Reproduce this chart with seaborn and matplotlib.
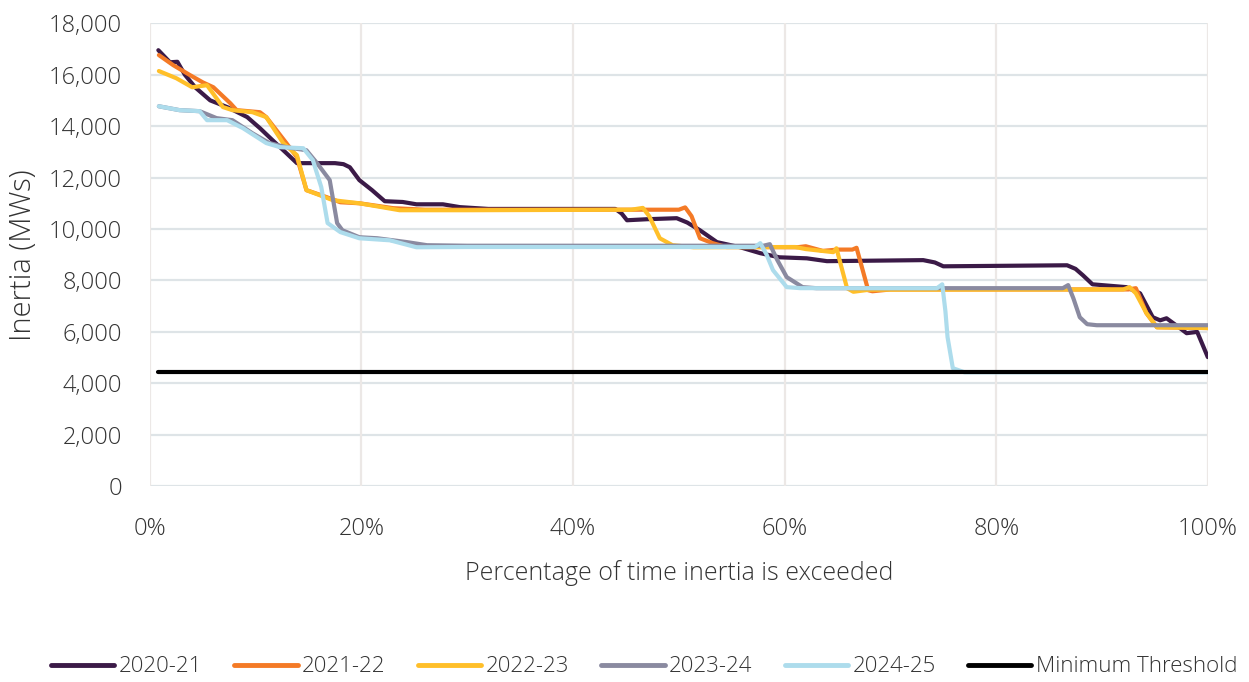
import pandas as pd
import matplotlib.pyplot as plt
import seaborn as sns
from matplotlib.ticker import FuncFormatter, PercentFormatter

# series (x = % of time, y = inertia in MWs)
x_2020 = [0.8, 1.9, 2.6, 3.3, 4.3, 5.7, 7.3, 9.2, 10.4, 11.6, 12.9, 13.9, 15.5, 17.5, 18.3,
          18.9, 19.8, 21.0, 22.2, 23.9, 25.2, 27.7, 29.3, 32.0, 44.0, 44.6, 45.1, 47.0, 49.8,
          50.8, 52.0, 53.6, 55.8, 57.7, 59.5, 62.1, 64.0, 73.1, 74.2, 75.0, 86.7, 87.5, 88.2,
          89.1, 92.3, 93.6, 94.8, 95.5, 96.1, 97.2, 98.0, 99.0, 100.0]
y_2020 = [16950, 16480, 16500, 16000, 15500, 15000, 14740, 14350, 13920, 13450, 12950, 12560,
          12560, 12560, 12520, 12400, 11900, 11510, 11080, 11050, 10960, 10960, 10850, 10780,
          10780, 10600, 10340, 10380, 10420, 10250, 9950, 9490, 9290, 9060, 8900, 8860, 8750,
          8790, 8700, 8550, 8590, 8450, 8200, 7850, 7740, 7500, 6570, 6450, 6530, 6200, 5950,
          6000, 5020]

x_2021 = [0.85, 2.2, 3.8, 5.0, 6.0, 7.6, 8.2, 10.4, 11.0, 12.9, 13.9, 14.8, 16.7, 18.0, 19.8,
          23.0, 26.0, 50.0, 50.6, 51.2, 52.0, 53.2, 54.5, 61.2, 62.0, 63.6, 65.0, 66.4, 66.8,
          67.9, 68.3, 70.0, 92.5, 93.2, 94.2, 95.2, 100.0]
y_2021 = [16760, 16370, 15980, 15700, 15510, 14890, 14620, 14540, 14350, 13340, 12790, 11510,
          11240, 11040, 11000, 10810, 10750, 10750, 10840, 10500, 9640, 9450, 9300, 9290, 9330,
          9150, 9200, 9200, 9270, 7620, 7580, 7650, 7650, 7700, 6730, 6180, 6150]

x_2022 = [0.85, 2.5, 4.0, 5.4, 6.9, 7.8, 9.7, 11.0, 12.6, 13.9, 14.8, 17.3, 19.8, 23.6, 30.0,
          45.5, 46.6, 47.2, 48.2, 49.4, 51.4, 61.0, 62.0, 64.6, 64.9, 65.9, 66.5, 68.0, 92.0,
          92.6, 93.2, 94.2, 95.2, 100.0]
y_2022 = [16140, 15860, 15510, 15590, 14740, 14620, 14540, 14350, 13340, 12870, 11510, 11120,
          11000, 10730, 10730, 10750, 10820, 10500, 9640, 9370, 9290, 9300, 9220, 9100, 9250,
          7700, 7560, 7640, 7650, 7740, 7500, 6730, 6180, 6150]

x_2023 = [0.85, 2.8, 4.7, 6.3, 7.8, 9.7, 11.3, 12.9, 14.8, 15.8, 17.0, 17.7, 18.2, 19.8, 21.5,
          24.3, 26.2, 30.0, 58.0, 58.6, 59.3, 60.2, 61.7, 63.0, 86.3, 86.8, 87.3, 87.9, 88.6,
          89.5, 100.0]
y_2023 = [14770, 14620, 14580, 14310, 14230, 13720, 13340, 13180, 13060, 12560, 11900, 10230,
          9950, 9680, 9640, 9490, 9370, 9350, 9350, 9410, 8800, 8130, 7740, 7700, 7700, 7820,
          7300, 6570, 6300, 6260, 6260]

x_2024 = [0.85, 2.8, 4.7, 5.4, 7.3, 8.8, 11.0, 12.3, 14.5, 15.4, 16.2, 16.8, 18.0, 19.8, 22.7,
          25.2, 30.0, 57.2, 57.7, 58.3, 58.9, 60.2, 61.5, 74.4, 74.9, 75.2, 75.4, 75.9, 77.0,
          100.0]
y_2024 = [14770, 14620, 14580, 14230, 14230, 13920, 13340, 13180, 13140, 12680, 11630, 10230,
          9880, 9640, 9560, 9290, 9300, 9300, 9450, 9000, 8400, 7740, 7700, 7700, 7850, 6800,
          5800, 4590, 4430, 4430]

x_min = [0.8, 100.0]
y_min = [4430, 4430]

labels = ["2020-21", "2021-22", "2022-23", "2023-24", "2024-25", "Minimum Threshold"]
colors = ["#3B1A47", "#F47A26", "#FFBF29", "#8A8AA0", "#ADDCEC", "#000000"]
xs = [x_2020, x_2021, x_2022, x_2023, x_2024, x_min]
ys = [y_2020, y_2021, y_2022, y_2023, y_2024, y_min]

frames = []
for lab, x, y in zip(labels, xs, ys):
    frames.append(pd.DataFrame({"pct": x, "inertia": y, "series": lab}))
df = pd.concat(frames, ignore_index=True)

sns.set_theme(style="white")
plt.rcParams['font.family'] = ['Open Sans', 'DejaVu Sans']
text_col = "#333333"

fig = plt.figure(figsize=(12.49, 6.82), dpi=100)
ax = fig.add_axes([0.120, 0.287, 0.847, 0.679])

sns.lineplot(data=df, x="pct", y="inertia", hue="series", hue_order=labels,
             palette=dict(zip(labels, colors)), estimator=None, sort=False,
             linewidth=3, ax=ax, legend=False)
for line in ax.lines:
    line.set_solid_joinstyle("round")
    line.set_solid_capstyle("round")

ax.set_xlim(0, 100)
ax.set_ylim(0, 18000)
ax.set_xticks(range(0, 101, 20))
ax.set_yticks(range(0, 18001, 2000))
ax.xaxis.set_major_formatter(PercentFormatter(decimals=0))
ax.yaxis.set_major_formatter(FuncFormatter(lambda v, p: f"{int(v):,}"))

# gridlines: horizontal bluish grey, vertical warm grey
ax.grid(False)
for v in range(0, 18001, 2000):
    ax.axhline(v, color="#DEE4E7", lw=1.6, zorder=0)
for v in range(0, 101, 20):
    ax.axvline(v, color="#ECE8E6", lw=1.6, zorder=0)
for s in ax.spines.values():
    s.set_visible(False)

ax.tick_params(axis="both", length=0, labelsize=17, colors=text_col)
ax.tick_params(axis="x", pad=22)
ax.tick_params(axis="y", pad=20)
for t in ax.get_xticklabels() + ax.get_yticklabels():
    t.set_fontweight("light")
ax.set_xlabel("Percentage of time inertia is exceeded", fontsize=18, color=text_col,
              labelpad=14, fontweight="light")
ax.set_ylabel("Inertia (MWs)", fontsize=21, color=text_col, labelpad=8, fontweight="light")

handles = [plt.Line2D([0], [0], color=c, lw=3.5, solid_capstyle="round") for c in colors]
leg = fig.legend(handles, labels, loc="center", bbox_to_anchor=(0.5156, 0.022), ncol=6,
                 frameon=False, fontsize=16, handlelength=2.85, handletextpad=0.2,
                 columnspacing=1.45, labelcolor=text_col)
for t in leg.get_texts():
    t.set_fontweight("light")

fig.savefig("out.png", dpi=100)
